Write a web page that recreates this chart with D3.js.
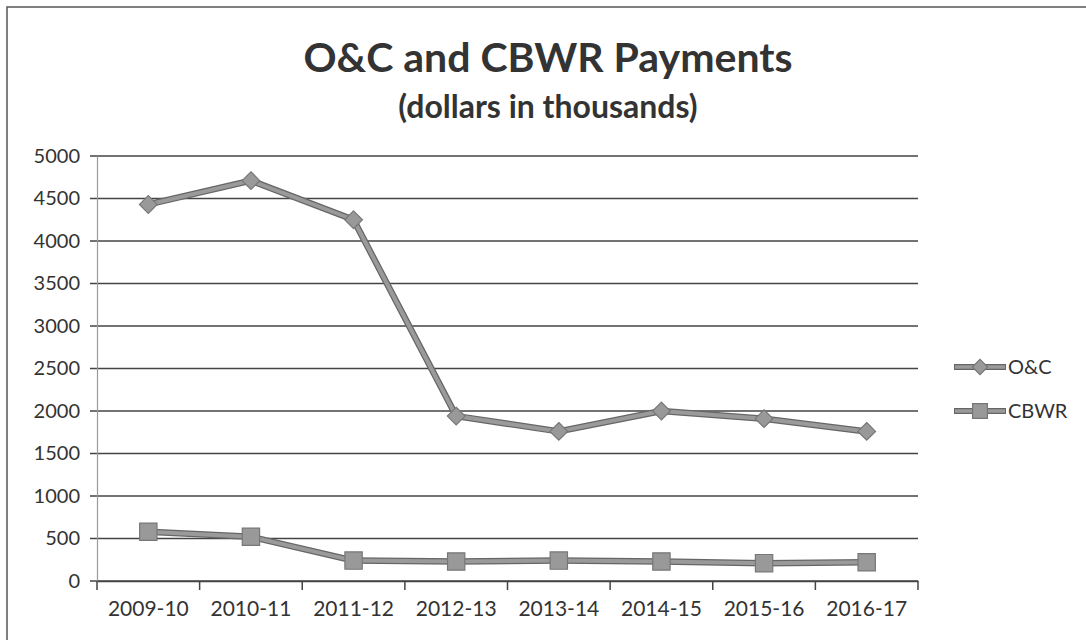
<!DOCTYPE html>
<html>
<head>
<meta charset="utf-8">
<script src="https://cdn.jsdelivr.net/npm/d3@7"></script>
<style>
  body { margin: 0; background: #fff; }
  text { font-family: Lato, "Open Sans", sans-serif; fill: #333; }
</style>
</head>
<body>
<svg width="1086" height="640"></svg>
<script>
var years = ["2009-10", "2010-11", "2011-12", "2012-13", "2013-14", "2014-15", "2015-16", "2016-17"];
var ocValues = [4430, 4710, 4250, 1940, 1760, 2000, 1910, 1760];
var cbwrValues = [580, 520, 240, 230, 240, 230, 210, 220];
var yTicks = [0, 500, 1000, 1500, 2000, 2500, 3000, 3500, 4000, 4500, 5000];

var svg = d3.select("svg"),
    plotLeft = 97, plotRight = 918, plotTop = 156, plotBottom = 581;

// outer frame
svg.append("rect")
    .attr("x", 7).attr("y", 7)
    .attr("width", 1090).attr("height", 640)
    .attr("fill", "none").attr("stroke", "#555").attr("stroke-width", 1.5);

svg.append("text")
    .attr("x", 548).attr("y", 72)
    .attr("text-anchor", "middle")
    .style("font-size", "41px").style("font-weight", "bold")
    .text("O&C and CBWR Payments");

svg.append("text")
    .attr("x", 548).attr("y", 118)
    .attr("text-anchor", "middle")
    .style("font-size", "32px").style("font-weight", "bold")
    .text("(dollars in thousands)");

var x = d3.scaleBand().domain(years).range([plotLeft, plotRight]);
var y = d3.scaleLinear().domain([0, 5000]).range([plotBottom, plotTop]);

// gridlines
svg.append("g")
    .selectAll("line")
    .data(yTicks)
    .enter().append("line")
    .attr("x1", plotLeft - 7).attr("x2", plotRight)
    .attr("y1", function(d) { return y(d); })
    .attr("y2", function(d) { return y(d); })
    .attr("stroke", "#444").attr("stroke-width", 1.6);

// y axis
var yAxis = svg.append("g")
    .attr("transform", "translate(" + plotLeft + ",0)")
    .call(d3.axisLeft(y).tickValues(yTicks).tickFormat(d3.format("d")).tickSize(0).tickPadding(17));
yAxis.select(".domain").attr("stroke", "#999").attr("stroke-width", 1.2);
yAxis.selectAll("text").style("font-size", "20px").style("fill", "#333");

// x axis
var xAxis = svg.append("g")
    .attr("transform", "translate(0," + plotBottom + ")")
    .call(d3.axisBottom(x).tickSize(0).tickPadding(20));
xAxis.select(".domain").attr("stroke", "#444").attr("stroke-width", 1.6);
xAxis.selectAll("text").style("font-size", "21px").style("fill", "#333");

svg.append("g")
    .selectAll("line")
    .data(years.concat(["end"]))
    .enter().append("line")
    .attr("x1", function(d, i) { return plotLeft + i * x.bandwidth(); })
    .attr("x2", function(d, i) { return plotLeft + i * x.bandwidth(); })
    .attr("y1", plotBottom).attr("y2", plotBottom + 9)
    .attr("stroke", "#444").attr("stroke-width", 1.5);

var line = d3.line()
    .x(function(d, i) { return x(years[i]) + x.bandwidth() / 2; })
    .y(function(d) { return y(d); });

function drawSeries(values, shape, size) {
    var g = svg.append("g");
    g.append("path")
        .datum(values)
        .attr("d", line)
        .attr("fill", "none").attr("stroke", "#666").attr("stroke-width", 6.5)
        .attr("stroke-linejoin", "round");
    g.append("path")
        .datum(values)
        .attr("d", line)
        .attr("fill", "none").attr("stroke", "#9a9a9a").attr("stroke-width", 4)
        .attr("stroke-linejoin", "round");
    g.selectAll(".pt")
        .data(values)
        .enter().append("path")
        .attr("class", "pt")
        .attr("transform", function(d, i) {
            return "translate(" + (x(years[i]) + x.bandwidth() / 2) + "," + y(d) + ")";
        })
        .attr("d", d3.symbol().type(shape).size(size))
        .attr("fill", "#999").attr("stroke", "#777").attr("stroke-width", 1.2);
}

drawSeries(ocValues, d3.symbolDiamond2, 200);
drawSeries(cbwrValues, d3.symbolSquare, 300);

// legend
var legend = [
    { name: "O&C", shape: d3.symbolDiamond2, size: 150, y: 367 },
    { name: "CBWR", shape: d3.symbolSquare, size: 220, y: 411 }
];
var lg = svg.append("g").selectAll("g").data(legend).enter().append("g");
lg.append("line")
    .attr("x1", 954).attr("x2", 1006)
    .attr("y1", function(d) { return d.y; }).attr("y2", function(d) { return d.y; })
    .attr("stroke", "#666").attr("stroke-width", 6);
lg.append("line")
    .attr("x1", 955).attr("x2", 1005)
    .attr("y1", function(d) { return d.y; }).attr("y2", function(d) { return d.y; })
    .attr("stroke", "#9a9a9a").attr("stroke-width", 3.5);
lg.append("path")
    .attr("transform", function(d) { return "translate(980," + d.y + ")"; })
    .attr("d", function(d) { return d3.symbol().type(d.shape).size(d.size)(); })
    .attr("fill", "#999").attr("stroke", "#777").attr("stroke-width", 1.2);
lg.append("text")
    .attr("x", 1008)
    .attr("y", function(d) { return d.y + 7; })
    .style("font-size", "20px")
    .text(function(d) { return d.name; });
</script>
</body>
</html>
